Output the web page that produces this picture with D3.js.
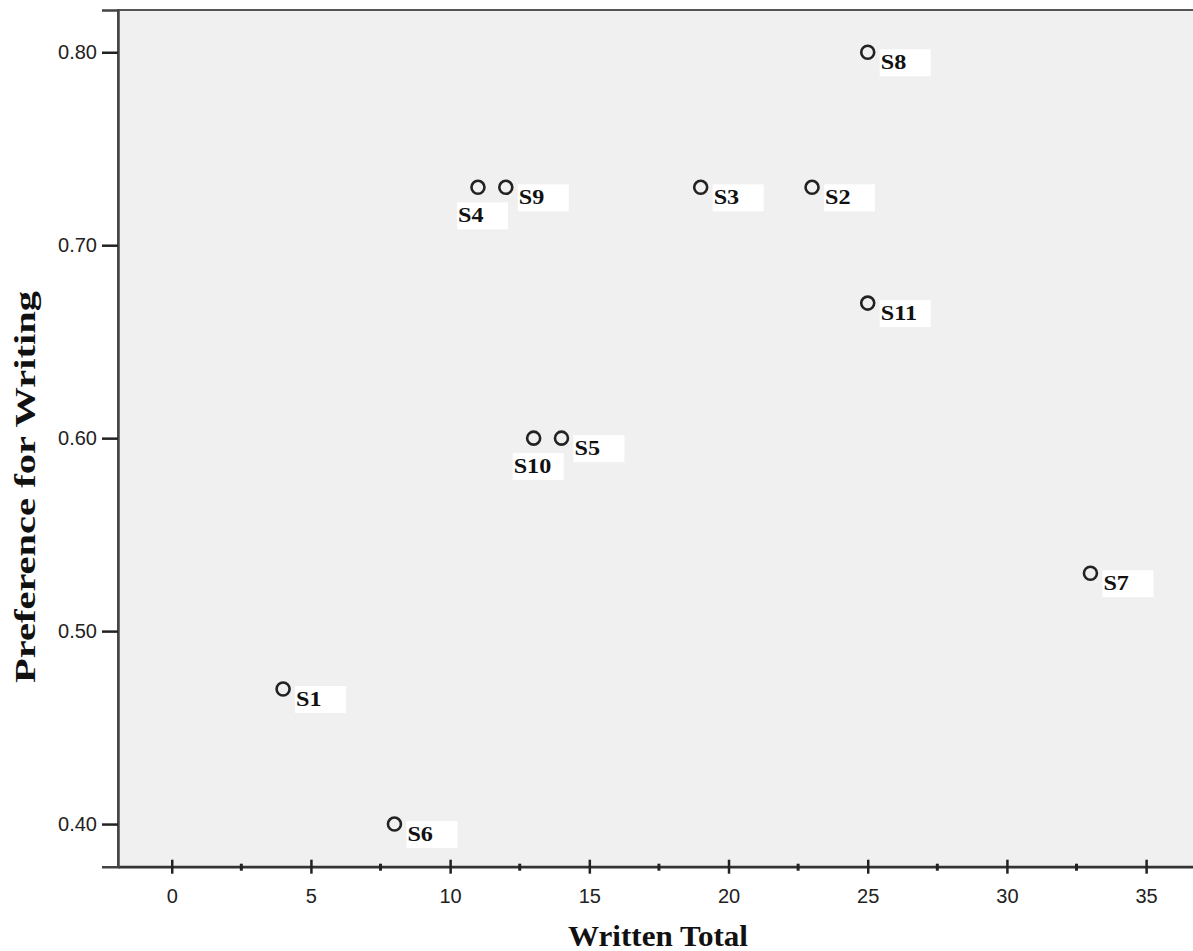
<!DOCTYPE html>
<html><head><meta charset="utf-8">
<script src="https://cdn.jsdelivr.net/npm/d3@7"></script>
<style>body{margin:0;background:#fff}svg{display:block}</style>
</head><body>
<script>
const labels = ["S1","S2","S3","S4","S5","S6","S7","S8","S9","S10","S11"];
const writtenTotal = [4,23,19,11,14,8,33,25,12,13,25];
const preference = [0.47,0.73,0.73,0.73,0.60,0.40,0.53,0.80,0.73,0.60,0.67];
const xTicks = [0,5,10,15,20,25,30,35];
const xMinorTicks = [2.5,7.5,12.5,17.5,22.5,27.5,32.5];
const yTicks = [0.40,0.50,0.60,0.70,0.80];
const xTitle = "Written Total";
const yTitle = "Preference for Writing";

const W = 1193, H = 951;
const L = 118, T = 10, R = 1194, B = 866.7;
const svg = d3.select("body").append("svg").attr("width", W).attr("height", H);

const x = d3.scaleLinear().domain([-1.93, 36.72]).range([L, R]);
const y = d3.scaleLinear().domain([0.3779, 0.8219]).range([B, T]);

svg.append("rect").attr("x", L).attr("y", T).attr("width", R - L).attr("height", B - T)
  .attr("fill", "#f0f0f0").attr("stroke", "#555").attr("stroke-width", 2);

// x axis
const xAxis = svg.append("g").attr("transform", `translate(0,${B})`)
  .call(d3.axisBottom(x).tickValues(xTicks).tickSize(0).tickPadding(22).tickFormat(d3.format("d")));
xAxis.select(".domain").attr("stroke", "#333").attr("stroke-width", 2.5);
xAxis.selectAll("text").attr("font-family", "Liberation Sans, Arial, sans-serif").attr("font-size", 20).attr("fill", "#222");
xAxis.selectAll(".tick").append("line").attr("y1", -7).attr("y2", 7).attr("stroke", "#222").attr("stroke-width", 2.5);
svg.append("g").selectAll("line").data(xMinorTicks).join("line")
  .attr("x1", d => x(d)).attr("x2", d => x(d)).attr("y1", B - 3).attr("y2", B + 4)
  .attr("stroke", "#222").attr("stroke-width", 3);

// y axis
const yAxis = svg.append("g").attr("transform", `translate(${L},0)`)
  .call(d3.axisLeft(y).tickValues(yTicks).tickSize(16).tickPadding(5).tickFormat(d3.format(".2f")));
yAxis.select(".domain").attr("stroke", "#444").attr("stroke-width", 2.5);
yAxis.selectAll(".tick line").attr("stroke", "#222").attr("stroke-width", 2.5);
yAxis.selectAll("text").attr("font-family", "Liberation Sans, Arial, sans-serif").attr("font-size", 20).attr("fill", "#222");

// points & labels
const pts = labels.map((s, i) => ({s, xv: writtenTotal[i], yv: preference[i]}));
pts.forEach(p => {
  p.below = pts.some(q => q !== p && q.yv === p.yv && q.xv > p.xv && q.xv - p.xv <= 1.5);
});
const lg = svg.append("g");
pts.forEach(p => {
  const px = x(p.xv), py = y(p.yv);
  const bx = p.below ? px - 21 : px + 12;
  const by = p.below ? py + 15 : py - 3;
  lg.append("rect").attr("x", bx).attr("y", by).attr("width", 51).attr("height", 27).attr("fill", "#fff");
  const t = lg.append("text").attr("x", bx + 1).attr("y", by + 20)
    .attr("font-family", "Liberation Serif, Times New Roman, serif").attr("font-weight", "bold")
    .attr("font-size", 21).attr("fill", "#111").text(p.s);
  const w = t.node().getComputedTextLength();
  t.attr("textLength", w * 1.15).attr("lengthAdjust", "spacingAndGlyphs");
});
svg.append("g").selectAll("circle").data(pts).join("circle")
  .attr("cx", d => x(d.xv)).attr("cy", d => y(d.yv)).attr("r", 6.5)
  .attr("fill", "none").attr("stroke", "#222").attr("stroke-width", 2.6);

// titles
svg.append("text").attr("x", 658).attr("y", 946).attr("text-anchor", "middle")
  .attr("font-family", "Liberation Serif, Times New Roman, serif").attr("font-weight", "bold")
  .attr("font-size", 29).attr("fill", "#111").attr("textLength", 180).attr("lengthAdjust", "spacingAndGlyphs").text(xTitle);
svg.append("text").attr("transform", "translate(35,487) rotate(-90)").attr("text-anchor", "middle")
  .attr("font-family", "Liberation Serif, Times New Roman, serif").attr("font-weight", "bold")
  .attr("font-size", 29).attr("fill", "#111").attr("textLength", 392).attr("lengthAdjust", "spacingAndGlyphs").text(yTitle);
</script>
</body></html>
